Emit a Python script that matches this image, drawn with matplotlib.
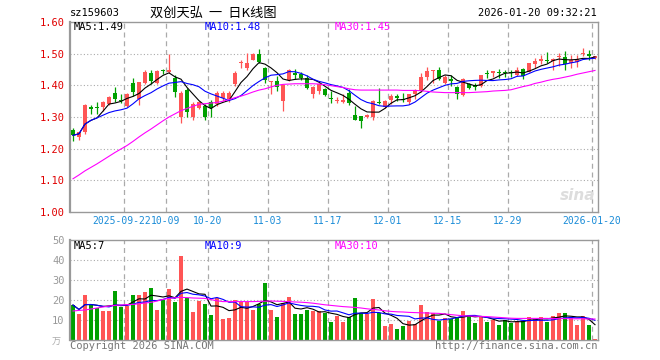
import numpy as np
import pandas as pd
import matplotlib
matplotlib.use("Agg")
import matplotlib.pyplot as plt

# daily k-line, 2025-09-09 .. 2026-01-20 (88 sessions)
opens = [1.259,1.236,1.252,1.333,1.330,1.333,1.341,1.377,1.354,1.335,
         1.408,1.356,1.408,1.440,1.408,1.448,1.442,1.424,1.299,1.384,
         1.301,1.330,1.335,1.346,1.341,1.361,1.356,1.403,1.471,1.455,
         1.481,1.500,1.455,1.411,1.414,1.351,1.416,1.438,1.436,1.424,
         1.374,1.382,1.388,1.360,1.352,1.348,1.377,1.307,1.304,1.299,
         1.301,1.348,1.333,1.354,1.367,1.358,1.346,1.374,1.382,1.426,
         1.446,1.450,1.408,1.419,1.395,1.370,1.403,1.400,1.398,1.440,
         1.440,1.443,1.441,1.441,1.432,1.453,1.443,1.468,1.478,1.480,
         1.478,1.489,1.489,1.469,1.474,1.499,1.498,1.486]
highs = [1.266,1.254,1.341,1.339,1.348,1.351,1.366,1.395,1.372,1.377,
         1.424,1.412,1.450,1.450,1.447,1.453,1.499,1.434,1.382,1.393,
         1.346,1.351,1.341,1.353,1.382,1.382,1.382,1.445,1.481,1.502,
         1.502,1.516,1.458,1.415,1.429,1.403,1.453,1.453,1.443,1.434,
         1.398,1.408,1.393,1.382,1.364,1.372,1.388,1.335,1.304,1.311,
         1.353,1.391,1.353,1.372,1.374,1.377,1.374,1.388,1.440,1.457,
         1.450,1.457,1.434,1.434,1.398,1.422,1.408,1.408,1.434,1.447,
         1.445,1.453,1.450,1.450,1.457,1.455,1.471,1.486,1.495,1.504,
         1.486,1.502,1.510,1.495,1.495,1.518,1.513,1.494]
lows = [1.223,1.226,1.247,1.311,1.309,1.320,1.338,1.346,1.343,1.333,
        1.367,1.338,1.403,1.403,1.403,1.436,1.440,1.364,1.280,1.301,
        1.289,1.325,1.291,1.301,1.335,1.351,1.346,1.398,1.455,1.450,
        1.479,1.471,1.408,1.374,1.382,1.320,1.414,1.419,1.416,1.388,
        1.361,1.372,1.367,1.343,1.343,1.343,1.339,1.289,1.266,1.297,
        1.289,1.341,1.330,1.341,1.349,1.346,1.341,1.356,1.380,1.416,
        1.408,1.416,1.403,1.398,1.358,1.367,1.388,1.384,1.396,1.424,
        1.427,1.424,1.427,1.427,1.429,1.421,1.441,1.455,1.466,1.471,
        1.447,1.460,1.450,1.455,1.457,1.492,1.481,1.484]
closes = [1.242,1.252,1.339,1.325,1.328,1.348,1.364,1.356,1.351,1.374,
          1.380,1.410,1.442,1.414,1.445,1.446,1.450,1.379,1.377,1.315,
          1.341,1.346,1.301,1.330,1.377,1.377,1.377,1.440,1.474,1.471,
          1.500,1.474,1.416,1.414,1.395,1.401,1.450,1.434,1.422,1.393,
          1.395,1.405,1.370,1.358,1.354,1.354,1.343,1.292,1.286,1.305,
          1.351,1.343,1.351,1.367,1.359,1.354,1.372,1.384,1.426,1.445,
          1.448,1.419,1.426,1.414,1.372,1.419,1.391,1.396,1.432,1.437,
          1.444,1.440,1.438,1.438,1.450,1.429,1.469,1.476,1.484,1.477,
          1.484,1.494,1.466,1.481,1.484,1.501,1.492,1.492]

# 30-day average (needs history before the window)
ma30_price = [1.105,1.117,1.130,1.141,1.152,1.164,1.176,1.188,1.199,1.210,
              1.223,1.237,1.250,1.262,1.275,1.288,1.300,1.310,1.320,1.327,
              1.334,1.340,1.342,1.344,1.346,1.350,1.355,1.361,1.366,1.372,
              1.379,1.385,1.389,1.395,1.400,1.403,1.404,1.405,1.405,1.405,
              1.405,1.404,1.402,1.399,1.396,1.393,1.389,1.386,1.385,1.385,
              1.385,1.385,1.385,1.385,1.385,1.384,1.384,1.384,1.383,1.381,
              1.379,1.378,1.377,1.377,1.377,1.377,1.377,1.378,1.379,1.380,
              1.382,1.383,1.384,1.386,1.391,1.396,1.400,1.406,1.410,1.415,
              1.419,1.422,1.426,1.430,1.435,1.439,1.443,1.447]

# volume, in 万
volumes = [17.5,13,22.5,18,15.8,14.5,14.5,24.5,16.5,17,
           22.5,22.5,24,26,15,20,25.5,19,42,20.8,
           14,19.5,18,12.5,21.2,10.5,11.2,20,18.8,18.8,
           15,18,28.5,15,11.7,18.3,21.5,13,13,15,
           14.5,14.5,13.7,9.2,12.2,9.2,11.7,21.2,13.3,13,
           20.5,13.3,7,8,5.5,7,9.7,8,17.5,13.8,
           13.3,9.7,10.8,10.5,11.7,14.5,12.5,8.7,11.7,9.2,
           10,7.5,10,8.7,9.7,9.7,11.7,10.5,11.7,9.2,
           12,13.7,13.7,10.8,7.5,12,7.5,0.5]
ma30_vol = [14.5,14.8,15.0,15.5,16.0,16.5,17.0,17.3,17.5,17.7,
            17.8,18.1,18.5,18.8,19.5,20.3,20.8,21.1,21.3,21.2,
            21.0,20.9,20.8,20.2,19.6,19.2,19.2,19.2,19.2,19.2,
            19.2,19.3,19.4,19.5,19.4,19.3,19.2,19.0,18.9,18.7,
            18.4,18.0,17.6,17.3,17.0,16.7,16.5,16.3,16.0,15.6,
            15.3,15.0,14.6,14.3,14.1,14.0,13.8,13.7,13.6,13.5,
            13.4,13.3,13.0,12.7,12.4,12.1,12.0,11.9,11.8,11.7,
            11.5,11.3,11.1,10.9,10.8,10.8,10.8,10.8,10.8,10.8,
            10.7,10.7,10.7,10.6,10.6,10.6,10.5,10.5]

date_idx = [9, 16, 23, 33, 43, 53, 63, 73, 87]
date_labels = ["2025-09-22", "10-09", "10-20", "11-03", "11-17",
               "12-01", "12-15", "12-29", "2026-01-20"]
price_ticks = [1.00, 1.10, 1.20, 1.30, 1.40, 1.50, 1.60]
vol_ticks = [10, 20, 30, 40, 50]

RED = "#ff5555"
GREEN = "#00a000"
GRID = "#aaaaaa"
MONO = "DejaVu Sans Mono"
CJK = ["Noto Sans CJK SC", "DejaVu Sans"]

W, H = 660, 360
def fx(px):
    return px / W
def fy(py):
    return 1 - py / H

o = np.array(opens); c = np.array(closes)
idx = np.arange(len(c))
cols = np.where(c >= o, RED, GREEN)
ma5 = pd.Series(c).rolling(5, min_periods=1).mean()
ma10 = pd.Series(c).rolling(10, min_periods=1).mean()
v = pd.Series(volumes)
vma5 = v.rolling(5, min_periods=1).mean()
vma10 = v.rolling(10, min_periods=1).mean()

fig = plt.figure(figsize=(6.6, 3.6), dpi=100)
ax = fig.add_axes([fx(70), fy(212), 528 / W, 190 / H])
axv = fig.add_axes([fx(70), fy(340), 528 / W, 100 / H])

for a in (ax, axv):
    a.set_xlim(-0.5, len(c) - 0.5)
    for s in a.spines.values():
        s.set_color("#999999")
        s.set_linewidth(1)
    a.spines["left"].set_linewidth(1.6)
    for i in date_idx:
        a.axvline(i - 0.5, color=GRID, ls=(0, (4, 3)), lw=0.9, zorder=0)

# price panel
ax.set_ylim(1.0, 1.6)
for t in price_ticks[1:-1]:
    ax.axhline(t, color=GRID, ls=(0, (1, 2)), lw=0.8, zorder=0)
ax.vlines(idx, lows, highs, colors=cols, lw=0.9, zorder=2)
ax.bar(idx, np.maximum(np.abs(c - o), 0.003), bottom=np.minimum(o, c),
       width=0.8, color=cols, lw=0, zorder=3)
ax.plot(idx, ma5, color="black", lw=0.8, zorder=4)
ax.plot(idx, ma10, color="#0000ff", lw=0.8, zorder=4)
ax.plot(idx, ma30_price, color="#ff00ff", lw=0.8, zorder=4)
ax.set_yticks(price_ticks, ["%.2f" % t for t in price_ticks])
ax.tick_params(axis="y", length=0, pad=4, labelcolor="#e00000", labelsize=7.5)
ax.set_xticks([])
for lab in ax.get_yticklabels():
    lab.set_family(MONO)
# date labels sit under the dashed lines; the first one is nudged left like the original
for i, lab in zip(date_idx, date_labels):
    xpos = i - 0.5 - (0.45 if lab == "2025-09-22" else 0)
    ax.text(xpos, -0.05, lab, transform=ax.get_xaxis_transform(), family=MONO,
            fontsize=7, color="#1a8cd8", ha="center", va="center")

# volume panel
axv.set_ylim(0, 50)
for t in vol_ticks[:-1]:
    axv.axhline(t, color=GRID, ls=(0, (1, 2)), lw=0.8, zorder=0)
axv.bar(idx, volumes, width=0.8, color=cols, lw=0, zorder=2)
axv.plot(idx, vma5, color="black", lw=0.8, zorder=3)
axv.plot(idx, vma10, color="#0000ff", lw=0.8, zorder=3)
axv.plot(idx, ma30_vol, color="#ff00ff", lw=0.8, zorder=3)
axv.set_xticks([])
axv.set_yticks(vol_ticks, [str(t) for t in vol_ticks])
axv.tick_params(axis="y", length=0, pad=4, labelcolor="#999999", labelsize=7.5)
for lab in axv.get_yticklabels():
    lab.set_family(MONO)

# header and labels
fig.text(fx(70), fy(13), "sz159603", family=MONO, fontsize=7.5, va="center")
fig.text(fx(213), fy(13), "双创天弘  一  日K线图", family=CJK, fontsize=9.5,
         ha="center", va="center")
fig.text(fx(597), fy(13), "2026-01-20 09:32:21", family=MONO, fontsize=7.5,
         ha="right", va="center")
fig.text(fx(74), fy(27), "MA5:1.49", family=MONO, fontsize=7.5, va="center")
fig.text(fx(205), fy(27), "MA10:1.48", family=MONO, fontsize=7.5, va="center", color="#0000ff")
fig.text(fx(335), fy(27), "MA30:1.45", family=MONO, fontsize=7.5, va="center", color="#ff00ff")
fig.text(fx(74), fy(246), "MA5:7", family=MONO, fontsize=7.5, va="center")
fig.text(fx(205), fy(246), "MA10:9", family=MONO, fontsize=7.5, va="center", color="#0000ff")
fig.text(fx(335), fy(246), "MA30:10", family=MONO, fontsize=7.5, va="center", color="#ff00ff")
fig.text(fx(56), fy(342), "万", family=CJK, fontsize=6.5, ha="center", va="center", color="#aaaaaa")
fig.text(fx(578), fy(195), "sina", fontsize=11, style="italic", weight="bold",
         ha="center", va="center", color="#dddddd")
fig.text(fx(70), fy(346), "Copyright 2026 SINA.COM", family=MONO, fontsize=7.5,
         va="center", color="#777777")
fig.text(fx(597), fy(346), "http://finance.sina.com.cn", family=MONO, fontsize=7.5,
         ha="right", va="center", color="#777777")

fig.savefig("out.png", dpi=100)
